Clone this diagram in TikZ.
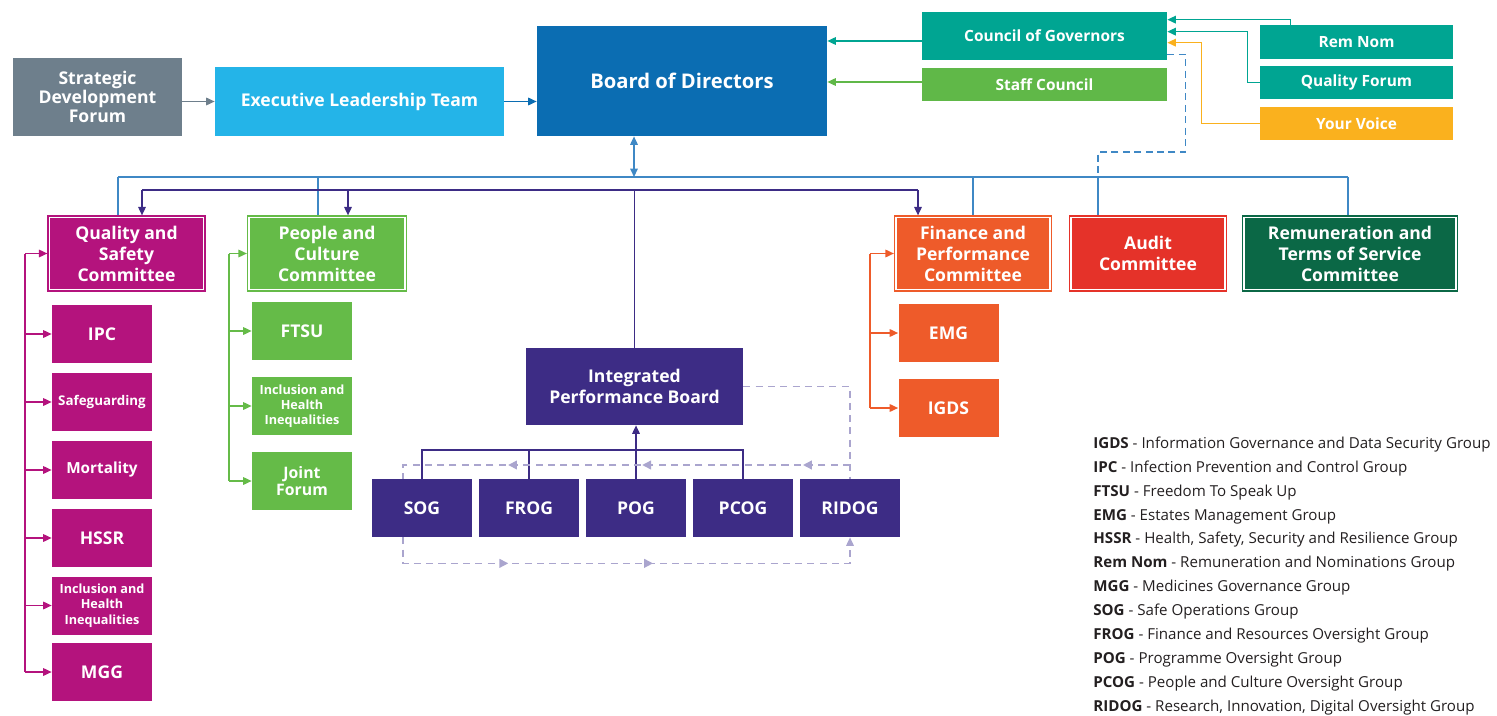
\documentclass[tikz,border=0pt]{standalone}
\usepackage{fontspec}
\setmainfont{Open Sans}
\usetikzlibrary{arrows.meta,calc,decorations.markings}
\definecolor{slate}{RGB}{110,127,140}
\definecolor{sky}{RGB}{36,180,232}
\definecolor{boardblue}{RGB}{11,109,178}
\definecolor{govteal}{RGB}{0,165,146}
\definecolor{staffgreen}{RGB}{96,184,72}
\definecolor{amber}{RGB}{250,177,30}
\definecolor{qsmag}{RGB}{180,19,125}
\definecolor{pcgreen}{RGB}{101,187,72}
\definecolor{fporange}{RGB}{238,91,42}
\definecolor{auditred}{RGB}{229,50,41}
\definecolor{remgreen}{RGB}{11,104,70}
\definecolor{ipbpurple}{RGB}{61,44,133}
\definecolor{busblue}{RGB}{63,136,197}
\definecolor{loopgray}{RGB}{170,165,206}
\definecolor{legendink}{RGB}{35,31,32}

\tikzset{
  box/.style={rectangle,inner sep=1pt,align=center,text=white,fill=#1},
  wh/.style 2 args={minimum width=#1*0.02cm,minimum height=#2*0.02cm},
  cbox/.style={box=#1,draw=#1,double=white,double distance=1.1pt,line width=0.6pt,outer sep=1.2pt},
  txtL/.style={font=\fontsize{10}{12}\selectfont\bfseries},
  txtM/.style={font=\fontsize{8.8}{10.5}\selectfont\bfseries},
  txtS/.style={font=\fontsize{7.2}{8.7}\selectfont\bfseries},
  wire/.style={line width=0.8pt},
  dashloop/.style={loopgray,line width=0.8pt,dash pattern=on 4pt off 3pt},
}

\begin{document}
\begin{tikzpicture}[x=0.02cm,y=-0.02cm,>={Triangle[length=4.8pt,width=4.3pt]}]
  \useasboundingbox (0,0) rectangle (1497,716);

  % top row
  \node[box=slate,wh={169}{78},font=\fontsize{10}{10.7}\selectfont\bfseries] (sdf) at (97.5,97) {Strategic\\Development\\Forum};
  \node[box=sky,wh={289}{69},txtL] (elt) at (359.5,101.5) {Executive Leadership Team};
  \node[box=boardblue,wh={290}{110},font=\fontsize{11.5}{13}\selectfont\bfseries] (bod) at (682,81) {Board of Directors};
  \node[box=govteal,wh={245}{48},txtM] (cog) at (1044.5,36) {Council of Governors};
  \node[box=staffgreen,wh={245}{33},txtM] (staff) at (1044.5,84.5) {Staff Council};
  \node[box=govteal,wh={193}{34},txtM] (remnom) at (1356.5,42) {Rem Nom};
  \node[box=govteal,wh={193}{33},txtM] (qforum) at (1356.5,82.5) {Quality Forum};
  \node[box=amber,wh={193}{33},txtM] (voice) at (1356.5,123.5) {Your Voice};

  \draw[wire,slate,->] (elt.west -| sdf.east) -- (elt.west);
  \draw[wire,boardblue,->] (elt.east) -- (elt.east -| bod.west);
  \draw[wire,govteal,->] ([yshift=-0.1cm]cog.west) -- ([yshift=-0.1cm]cog.west -| bod.east);
  \draw[wire,staffgreen,->] ([yshift=0.05cm]staff.west) -- ([yshift=0.05cm]staff.west -| bod.east);
  \draw[wire,govteal,->] ($(remnom.north west)+(31,0)$) |- ($(cog.north east)+(0,8)$);
  \draw[wire,govteal,->] (qforum.west) -- ++(-12,0) |- ($(cog.north east)+(0,20)$);
  \draw[wire,amber,->] (voice.west) -- ++(-58,0) |- ($(cog.north east)+(0,31)$);

  % committees
  \node[cbox=qsmag,wh={154}{72},txtL] (qsc) at (126.5,253.5) {Quality and\\Safety\\Committee};
  \node[cbox=pcgreen,wh={156}{72},txtL] (pcc) at (327,253.5) {People and\\Culture\\Committee};
  \node[cbox=fporange,wh={154}{72},txtL] (fpc) at (973,253.5) {Finance and\\Performance\\Committee};
  \node[cbox=auditred,wh={154}{72},txtL] (audit) at (1148,253.5) {Audit\\Committee};
  \node[cbox=remgreen,wh={212}{72},txtL] (rtsc) at (1350,253.5) {Remuneration and\\Terms of Service\\Committee};

  % blue bus
  \coordinate (b1) at (118,177);
  \coordinate (b2) at (318,177);
  \coordinate (b3) at (634,177);
  \coordinate (b4) at (973,177);
  \coordinate (b5) at (1098,177);
  \coordinate (b6) at (1348,177);
  \draw[wire,busblue] (b1) -- (b6);
  \foreach \c/\n in {b1/qsc,b2/pcc,b4/fpc,b5/audit,b6/rtsc}
    \draw[wire,busblue] (\c) -- (\n.north -| \c);
  \draw[wire,busblue,<->] (bod.south -| b3) -- (b3);
  \draw[wire,busblue,dash pattern=on 4pt off 2.5pt] ($(cog.south east)+(0,-6)$) -- ++(18,0) |- (1098,152) -- (b5);

  % purple bus
  \coordinate (p1) at (142,190);
  \coordinate (p2) at (348,190);
  \coordinate (p3) at (634.5,190);
  \coordinate (p4) at (918,190);
  \draw[wire,ipbpurple] (p1) -- (p4);
  \foreach \c/\n in {p1/qsc,p2/pcc,p4/fpc}
    \draw[wire,ipbpurple,->] (\c) -- (\n.north -| \c);

  % quality and safety groups
  \node[box=qsmag,wh={100}{58},txtL] (ipc) at (102,334) {IPC};
  \node[box=qsmag,wh={100}{58},font=\fontsize{7.6}{9}\selectfont\bfseries] (safe) at (102,402) {Safeguarding};
  \node[box=qsmag,wh={100}{58},font=\fontsize{8.7}{10}\selectfont\bfseries] (mort) at (102,470) {Mortality};
  \node[box=qsmag,wh={100}{58},txtL] (hssr) at (102,538) {HSSR};
  \node[box=qsmag,wh={100}{58},txtS] (inclq) at (102,605.5) {Inclusion and\\Health\\Inequalities};
  \node[box=qsmag,wh={100}{58},txtL] (mgg) at (102,672) {MGG};
  \coordinate (qs) at (25,0);
  \draw[wire,qsmag] (qsc.west -| qs) -- (mgg.west -| qs);
  \foreach \n in {qsc,ipc,safe,mort,hssr,inclq,mgg}
    \draw[wire,qsmag,->] (\n.west -| qs) -- (\n.west);

  % people and culture groups
  \node[box=pcgreen,wh={100}{58},txtL] (ftsu) at (302,331) {FTSU};
  \node[box=pcgreen,wh={100}{58},txtS] (inclp) at (302,406) {Inclusion and\\Health\\Inequalities};
  \node[box=pcgreen,wh={100}{58},font=\fontsize{9}{10}\selectfont\bfseries] (joint) at (302,481) {Joint\\Forum};
  \coordinate (ps) at (229,0);
  \draw[wire,pcgreen] (pcc.west -| ps) -- (joint.west -| ps);
  \foreach \n in {pcc,ftsu,inclp,joint}
    \draw[wire,pcgreen,->] (\n.west -| ps) -- (\n.west);

  % finance and performance groups
  \node[box=fporange,wh={100}{58},txtL] (emg) at (948.5,333) {EMG};
  \node[box=fporange,wh={100}{58},txtL] (igds) at (948.5,408) {IGDS};
  \coordinate (fs) at (870,0);
  \draw[wire,fporange] (fpc.west -| fs) -- (igds.west -| fs);
  \foreach \n in {fpc,emg,igds}
    \draw[wire,fporange,->] (\n.west -| fs) -- (\n.west);

  % integrated performance board
  \node[box=ipbpurple,wh={217}{77},font=\fontsize{10}{12.3}\selectfont\bfseries] (ipb) at (634.5,386.5) {Integrated\\Performance Board};
  \draw[wire,ipbpurple] (p3) -- (ipb.north);
  \node[box=ipbpurple,wh={100}{58},txtL] (sog) at (422,508) {SOG};
  \node[box=ipbpurple,wh={100}{58},txtL] (frog) at (529,508) {FROG};
  \node[box=ipbpurple,wh={100}{58},txtL] (pog) at (636,508) {POG};
  \node[box=ipbpurple,wh={100}{58},txtL] (pcog) at (743,508) {PCOG};
  \node[box=ipbpurple,wh={100}{58},txtL] (ridog) at (850,508) {RIDOG};
  \coordinate (tj) at (743,450);
  \draw[wire,ipbpurple] (sog.north) |- (tj) -- (pcog.north);
  \draw[wire,ipbpurple] (frog.north) -- (frog.north |- tj);
  \draw[wire,ipbpurple,->] (pog.north) -- (pog.north |- ipb.south);

  % dashed loop
  \coordinate (dr) at (850,465);
  \coordinate (dl) at (403,465);
  \draw[dashloop] (ipb.east) -| (ridog.north);
  \draw[dashloop,postaction={decorate},decoration={markings,
      mark=at position 0.102 with {\arrow{Triangle[length=5pt,width=5pt]}},
      mark=at position 0.451 with {\arrow{Triangle[length=5pt,width=5pt]}},
      mark=at position 0.742 with {\arrow{Triangle[length=5pt,width=5pt]}}}]
    (dr) -- (dl) -- (dl |- sog.north);
  \draw[dashloop,->,postaction={decorate},decoration={markings,
      mark=at position 0.263 with {\arrow{Triangle[length=5pt,width=5pt]}},
      mark=at position 0.553 with {\arrow{Triangle[length=5pt,width=5pt]}}}]
    (sog.south -| dl) -- ++(0,26) -| (ridog.south);

  % legend
  \node[anchor=north west,align=left,inner sep=0pt,text=legendink,font=\fontsize{8.6}{13.6}\selectfont] (legend) at (1093,436.5)
    {\textbf{IGDS} - Information Governance and Data Security Group\\
     \textbf{IPC} - Infection Prevention and Control Group\\
     \textbf{FTSU} - Freedom To Speak Up\\
     \textbf{EMG} - Estates Management Group\\
     \textbf{HSSR} - Health, Safety, Security and Resilience Group\\
     \textbf{Rem Nom} - Remuneration and Nominations Group\\
     \textbf{MGG} - Medicines Governance Group\\
     \textbf{SOG} - Safe Operations Group\\
     \textbf{FROG} - Finance and Resources Oversight Group\\
     \textbf{POG} - Programme Oversight Group\\
     \textbf{PCOG} - People and Culture Oversight Group\\
     \textbf{RIDOG} - Research, Innovation, Digital Oversight Group};
\end{tikzpicture}
\end{document}
